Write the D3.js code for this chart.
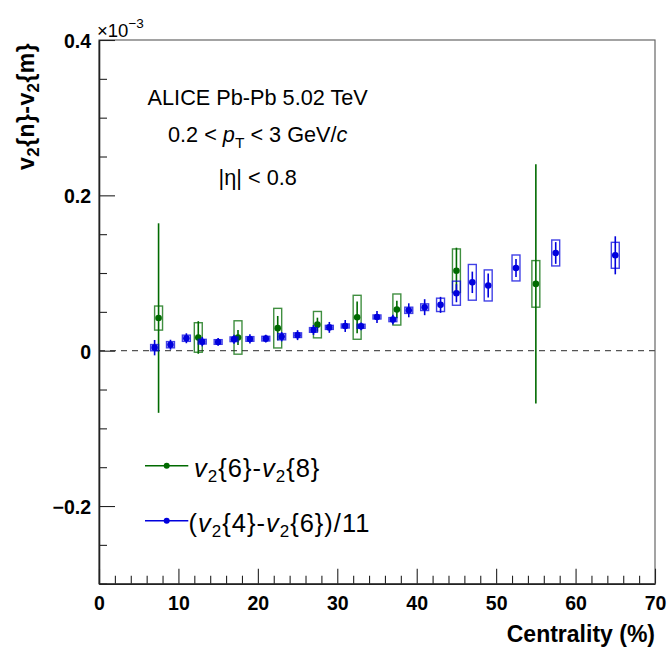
<!DOCTYPE html>
<html>
<head>
<meta charset="utf-8">
<script src="https://cdn.jsdelivr.net/npm/d3@7"></script>
<style>
  html, body { margin: 0; padding: 0; background: #fff; }
  svg { display: block; font-family: "Liberation Sans", Arial, Helvetica, sans-serif; }
</style>
</head>
<body>
<svg id="chart" width="669" height="651"></svg>
<script>
// ---------------- data (values in units of 1e-3) ----------------
const blueCent = [7, 9, 11, 13, 15, 17, 19, 21, 23, 25, 27, 29, 31, 33, 35, 37, 39, 41, 43, 45, 47, 49, 52.5, 57.5, 65];
const blueVal  = [0.0039, 0.0077, 0.016, 0.0116, 0.0112, 0.0147, 0.0151, 0.0155, 0.018, 0.020, 0.0267, 0.030, 0.0318, 0.0314, 0.0434, 0.040, 0.052, 0.056, 0.059, 0.074, 0.088, 0.084, 0.1065, 0.1258, 0.1228];
const blueStat = [0.0099, 0.0064, 0.0064, 0.006, 0.005, 0.0058, 0.006, 0.005, 0.006, 0.0064, 0.0064, 0.007, 0.0077, 0.005, 0.0077, 0.0064, 0.009, 0.0103, 0.0103, 0.0116, 0.0138, 0.0155, 0.0116, 0.014, 0.0245];
const blueSys  = [0.004, 0.004, 0.004, 0.003, 0.003, 0.003, 0.003, 0.003, 0.004, 0.003, 0.003, 0.0026, 0.0026, 0.0026, 0.0026, 0.0026, 0.004, 0.0043, 0.0086, 0.0155, 0.023, 0.020, 0.0167, 0.0167, 0.0167];

const greenCent = [7.5, 12.5, 17.5, 22.5, 27.5, 32.5, 37.5, 45, 55];
const greenVal  = [0.042, 0.017, 0.017, 0.029, 0.0335, 0.043, 0.053, 0.103, 0.086];
const greenStat = [0.122, 0.021, 0.0097, 0.0157, 0.009, 0.0204, 0.0114, 0.0296, 0.154];
const greenSys  = [0.0155, 0.019, 0.0215, 0.0255, 0.017, 0.0283, 0.020, 0.028, 0.030];

const sysHalfWidth = 0.5; // centrality units

const xMajorTicks = [0, 10, 20, 30, 40, 50, 60, 70];
const yMajorTicks = [-0.2, 0, 0.2, 0.4];
const xDomain = [0, 70];
const yDomain = [-0.3, 0.4];

const annotLines = ["ALICE Pb-Pb 5.02 TeV", "0.2 < p_T < 3 GeV/c", "|η| < 0.8"];

// ---------------- setup ----------------
const svg = d3.select("#chart");
const L = 99, R = 655, T = 40, B = 583.7;
const x = d3.scaleLinear().domain(xDomain).range([L, R]);
const y = d3.scaleLinear().domain(yDomain).range([B, T]);

const GREEN = "#006a00";
const BLUE = "#0000dd";

// frame (top & right)
svg.append("rect").attr("x", L).attr("y", T).attr("width", R - L).attr("height", B - T)
  .attr("fill", "none").attr("stroke", "#666").attr("stroke-width", 1.2);

// zero dashed line
svg.append("line").attr("x1", x(0)).attr("x2", x(70)).attr("y1", y(0)).attr("y2", y(0))
  .attr("stroke", "#555").attr("stroke-width", 1.3).attr("stroke-dasharray", "6,5");

// axes
const xMinor = d3.range(0, 70.001, 2).filter(v => v % 10 !== 0);
const yMinor = d3.range(-0.3, 0.4001, 0.05).map(v => +v.toFixed(3)).filter(v => !yMajorTicks.some(m => Math.abs(m - v) < 1e-6));

const fmt = d => d === 0 ? "0" : d3.format(".1f")(d);

const gx = svg.append("g").attr("transform", `translate(0,${B})`)
  .call(d3.axisBottom(x).tickValues(xMajorTicks).tickSizeInner(-15).tickSizeOuter(0).tickPadding(12).tickFormat(d3.format("d")));
svg.append("g").attr("transform", `translate(0,${B})`)
  .call(d3.axisBottom(x).tickValues(xMinor).tickSizeInner(-8).tickSizeOuter(0).tickFormat(""))
  .call(g => g.select(".domain").remove());
const gy = svg.append("g").attr("transform", `translate(${L},0)`)
  .call(d3.axisLeft(y).tickValues(yMajorTicks).tickSizeInner(-16).tickSizeOuter(0).tickPadding(8).tickFormat(fmt));
svg.append("g").attr("transform", `translate(${L},0)`)
  .call(d3.axisLeft(y).tickValues(yMinor).tickSizeInner(-8).tickSizeOuter(0).tickFormat(""))
  .call(g => g.select(".domain").remove());

svg.selectAll(".domain").attr("stroke", "#222").attr("stroke-width", 1.6);
svg.selectAll(".tick line").attr("stroke", "#222").attr("stroke-width", 1.1);
gx.selectAll("text").attr("font-size", 19.5).attr("font-weight", "bold").attr("fill", "#000")
  .attr("font-family", "Liberation Sans, Arial, sans-serif");
gy.selectAll("text").attr("font-size", 19.5).attr("font-weight", "bold").attr("fill", "#000")
  .attr("font-family", "Liberation Sans, Arial, sans-serif").attr("dy", "0.38em");

// x10^-3
const ex = svg.append("text").attr("x", 97).attr("y", 37.3).attr("font-size", 18.5).attr("fill", "#000");
ex.append("tspan").text("×10");
ex.append("tspan").attr("dy", -9).attr("font-size", 13.5).text("−3");

// axis titles
svg.append("text").attr("x", R).attr("y", 641.7).attr("text-anchor", "end")
  .attr("font-size", 23).attr("font-weight", "bold").attr("fill", "#000").text("Centrality (%)");

const yt = svg.append("text").attr("transform", "translate(33.5,43) rotate(-90)")
  .attr("text-anchor", "end").attr("font-size", 23).attr("font-weight", "bold").attr("fill", "#000")
  .attr("letter-spacing", 0.4);
yt.append("tspan").text("v");
yt.append("tspan").attr("font-size", 17).attr("dy", 5).text("2");
yt.append("tspan").attr("dy", -5).text("{n}-v");
yt.append("tspan").attr("font-size", 17).attr("dy", 5).text("2");
yt.append("tspan").attr("dy", -5).text("{m}");

// annotation
const ax = 257.7;
svg.append("text").attr("x", ax).attr("y", 105).attr("text-anchor", "middle").attr("font-size", 21.7)
  .attr("fill", "#000").text(annotLines[0]);
const a2 = svg.append("text").attr("x", ax).attr("y", 141.7).attr("text-anchor", "middle").attr("font-size", 21.7).attr("fill", "#000");
a2.append("tspan").text("0.2 < ");
a2.append("tspan").attr("font-style", "italic").text("p");
a2.append("tspan").attr("font-size", 15.5).attr("dy", 6).text("T");
a2.append("tspan").attr("dy", -6).text(" < 3 GeV/");
a2.append("tspan").attr("font-style", "italic").text("c");
svg.append("text").attr("x", ax).attr("y", 185).attr("text-anchor", "middle").attr("font-size", 21.7)
  .attr("fill", "#000").text(annotLines[2]);

// ---------------- series ----------------
function drawSeries(cent, val, stat, sys, color, r) {
  const g = svg.append("g");
  const data = cent.map((c, i) => ({ c, v: val[i], s: stat[i], y: sys[i] }));
  g.selectAll("rect.sys").data(data).join("rect").attr("class", "sys")
    .attr("x", d => x(d.c - sysHalfWidth)).attr("width", d => x(d.c + sysHalfWidth) - x(d.c - sysHalfWidth))
    .attr("y", d => y(d.v + d.y)).attr("height", d => y(d.v - d.y) - y(d.v + d.y))
    .attr("fill", "none").attr("stroke", color).attr("stroke-opacity", 0.75).attr("stroke-width", 1.4);
  g.selectAll("line.stat").data(data).join("line").attr("class", "stat")
    .attr("x1", d => x(d.c)).attr("x2", d => x(d.c))
    .attr("y1", d => y(d.v + d.s)).attr("y2", d => y(d.v - d.s))
    .attr("stroke", color).attr("stroke-width", 1.6);
  g.selectAll("circle").data(data).join("circle")
    .attr("cx", d => x(d.c)).attr("cy", d => y(d.v)).attr("r", r).attr("fill", color);
}
drawSeries(greenCent, greenVal, greenStat, greenSys, GREEN, 3.3);
drawSeries(blueCent, blueVal, blueStat, blueSys, BLUE, 3.3);

// ---------------- legend ----------------
const legY = [465.7, 520.7];
const legColors = [GREEN, BLUE];
legY.forEach((ly, i) => {
  svg.append("line").attr("x1", 145).attr("x2", 188.3).attr("y1", ly).attr("y2", ly)
    .attr("stroke", legColors[i]).attr("stroke-width", 1.4);
  svg.append("circle").attr("cx", 166.7).attr("cy", ly).attr("r", 3).attr("fill", legColors[i]);
});
const lt1 = svg.append("text").attr("x", 194).attr("y", 477).attr("font-size", 25.5)
  .attr("letter-spacing", 1).attr("fill", "#000");
lt1.append("tspan").attr("font-style", "italic").text("v");
lt1.append("tspan").attr("font-size", 17).attr("dy", 5).text("2");
lt1.append("tspan").attr("dy", -5).text("{6}-");
lt1.append("tspan").attr("font-style", "italic").text("v");
lt1.append("tspan").attr("font-size", 17).attr("dy", 5).text("2");
lt1.append("tspan").attr("dy", -5).text("{8}");

const lt2 = svg.append("text").attr("x", 188.5).attr("y", 532).attr("font-size", 25.5)
  .attr("letter-spacing", 1).attr("fill", "#000");
lt2.append("tspan").text("(");
lt2.append("tspan").attr("font-style", "italic").text("v");
lt2.append("tspan").attr("font-size", 17).attr("dy", 5).text("2");
lt2.append("tspan").attr("dy", -5).text("{4}-");
lt2.append("tspan").attr("font-style", "italic").text("v");
lt2.append("tspan").attr("font-size", 17).attr("dy", 5).text("2");
lt2.append("tspan").attr("dy", -5).text("{6})/11");
</script>
</body>
</html>
